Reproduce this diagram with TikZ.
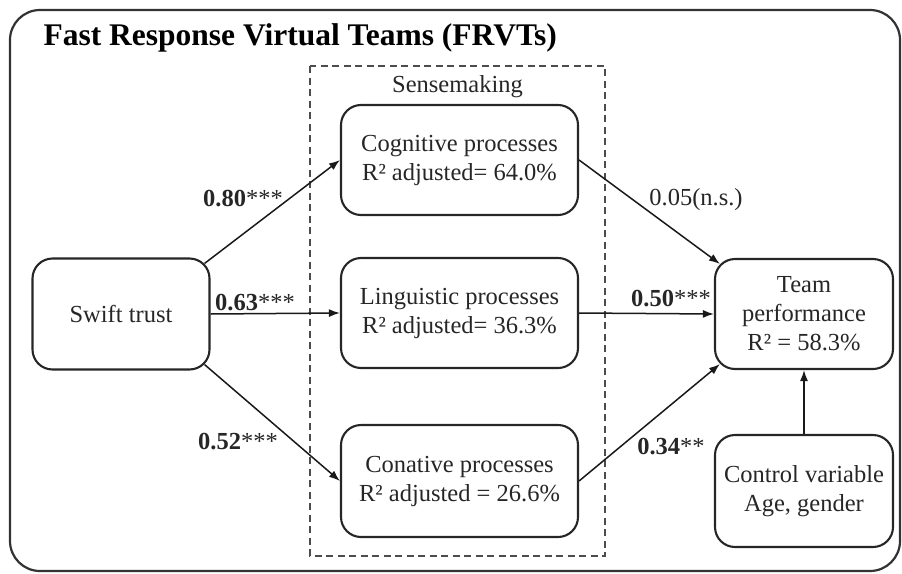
\documentclass[tikz,border=0pt]{standalone}
\usepackage{fontspec}
\setmainfont{Liberation Serif}
\usetikzlibrary{arrows.meta}
\begin{document}
\begin{tikzpicture}
      [x=1pt,y=-1pt,
       box/.style={draw=black!85,line width=2.1pt,rounded corners=20pt,
         align=center,inner sep=0pt,font=\fontsize{24.5}{29}\selectfont,
         text=black!85},
       lbl/.style={font=\fontsize{24.5}{29}\selectfont,text=black!85},
       arr/.style={line width=1.5pt,draw=black!90,
         -{Latex[length=11pt,width=8pt]}}]
      \useasboundingbox (0,0) rectangle (902,573);
      \draw[line width=2.2pt,draw=black!80,rounded corners=30pt]
        (10,10) rectangle (900,571);
      \node[anchor=base west,font=\fontsize{31.5}{36}\selectfont\bfseries]
        (title) at (40,45) {Fast Response Virtual Teams (FRVTs)};
      \draw[line width=1.3pt,draw=black!70,dash pattern=on 7pt off 4.5pt]
        (310,66) rectangle (605,556);
      \node[lbl] (sense) at (457.5,87) {Sensemaking};
      \node[box,minimum width=177pt,minimum height=111pt] (swift)
        at (121,314) {Swift trust};
      \node[box,minimum width=237pt,minimum height=110pt] (cog)
        at (459.5,160) {Cognitive processes\\R² adjusted= 64.0\%};
      \node[box,minimum width=237pt,minimum height=110pt] (ling)
        at (459.5,313) {Linguistic processes\\R² adjusted= 36.3\%};
      \node[box,minimum width=237pt,minimum height=112pt] (con)
        at (459.5,481) {Conative processes\\R² adjusted = 26.6\%};
      \node[box,minimum width=178pt,minimum height=110pt] (team)
        at (804,314) {Team\\performance\\R² = 58.3\%};
      \node[box,minimum width=178pt,minimum height=112pt] (ctrl)
        at (804,491) {Control variable\\Age, gender};
      \draw[arr] ([shift={(-6,6)}]swift.north east) -- (cog.west);
      \draw[arr] (swift.east) -- (ling.west);
      \draw[arr] ([shift={(-6,-6)}]swift.south east) -- (con.west);
      \draw[arr] (cog.east) -- ([shift={(6,6)}]team.north west);
      \draw[arr] (ling.east) -- (team.west);
      \draw[arr] (con.east) -- ([shift={(6,-6)}]team.south west);
      \draw[arr] (ctrl.north) -- (team.south);
      \node[lbl] (w1) at (243,199) {\textbf{0.80}***};
      \node[lbl] (w2) at (255,303) {\textbf{0.63}***};
      \node[lbl] (w3) at (238,442) {\textbf{0.52}***};
      \node[lbl] (w4) at (696,200) {0.05(n.s.)};
      \node[lbl] (w5) at (671,299) {\textbf{0.50}***};
      \node[lbl] (w6) at (671,447) {\textbf{0.34}**};
    \end{tikzpicture}
\end{document}
